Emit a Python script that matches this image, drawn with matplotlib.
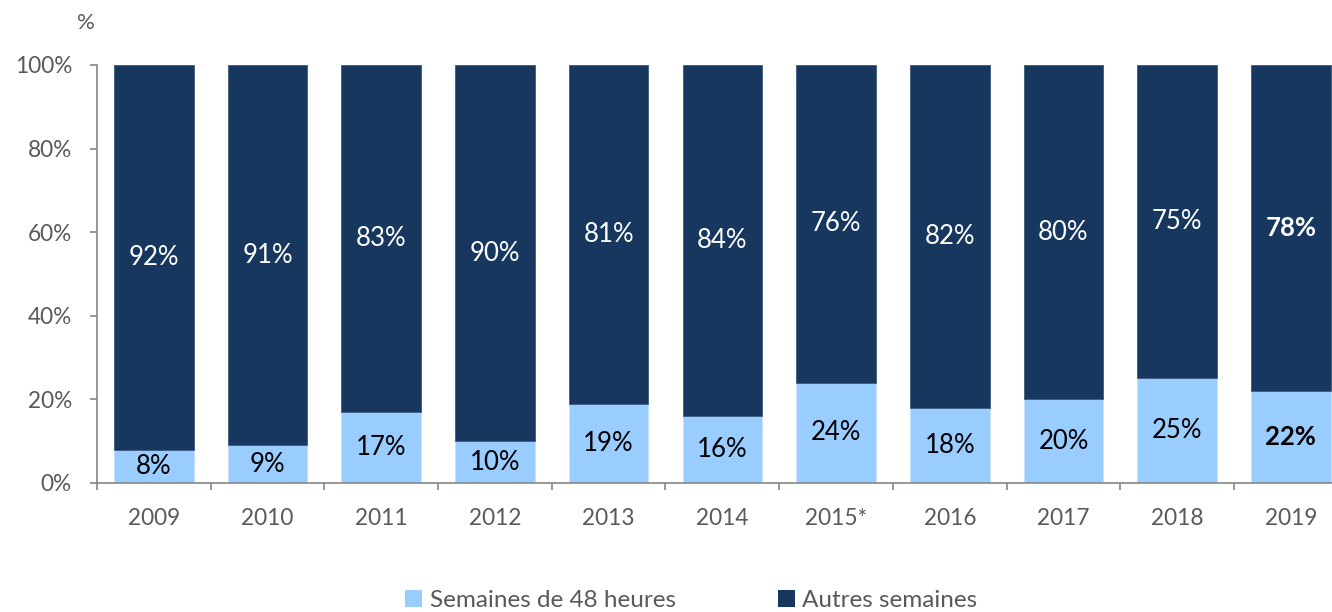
import numpy as np
import matplotlib.pyplot as plt
from matplotlib.patches import Patch

plt.rcParams['font.family'] = ['Lato', 'DejaVu Sans']

years = ["2009", "2010", "2011", "2012", "2013", "2014", "2015*", "2016", "2017", "2018", "2019"]
semaines_48h = [8, 9, 17, 10, 19, 16, 24, 18, 20, 25, 22]
autres = [92, 91, 83, 90, 81, 84, 76, 82, 80, 75, 78]

light = "#99CCFF"
dark = "#17375E"
grey = "#595959"
axis_grey = "#868686"

fig = plt.figure(figsize=(13.32, 6.12), dpi=100)
ax = fig.add_axes([0.0728, 0.2108, 0.939, 0.683])

x = np.arange(len(years))
w = 0.70
ax.bar(x, semaines_48h, w, color=light, edgecolor="#C8E2FA", linewidth=0.6)
ax.bar(x, autres, w, bottom=semaines_48h, color=dark, edgecolor="#3C5A80", linewidth=0.6)

# valeurs au centre de chaque segment, dernière année en gras
last = len(years) - 1
for i in range(len(years)):
    wt = "bold" if i == last else "normal"
    ax.text(x[i], semaines_48h[i] / 2, f"{semaines_48h[i]}%", ha="center", va="center",
            fontsize=18.5, color="black", fontweight=wt)
    ax.text(x[i], semaines_48h[i] + autres[i] / 2, f"{autres[i]}%", ha="center", va="center",
            fontsize=18.5, color="white", fontweight=wt)

ax.set_xlim(-0.5, len(years) - 0.5)
ax.set_ylim(0, 100)
ax.set_yticks(np.arange(0, 101, 20))
ax.set_yticklabels([f"{v}%" for v in range(0, 101, 20)])
ax.set_xticks(x)
ax.set_xticklabels(years)
ax.set_xticks(np.arange(-0.5, len(years), 1), minor=True)

for s in ["top", "right"]:
    ax.spines[s].set_visible(False)
for s in ["left", "bottom"]:
    ax.spines[s].set_color(axis_grey)
    ax.spines[s].set_linewidth(1.2)

ax.tick_params(axis="y", length=5, width=1.2, color=axis_grey, labelsize=16.3, labelcolor=grey, pad=13)
ax.tick_params(axis="x", which="major", length=0, labelsize=16.3, labelcolor=grey, pad=18)
ax.tick_params(axis="x", which="minor", length=5, width=1.2, color=axis_grey)

fig.text(0.0645, 0.963, "%", fontsize=16, color=grey, ha="center", va="center")

handles = [Patch(facecolor=light, edgecolor="none"), Patch(facecolor=dark, edgecolor="none")]
fig.legend(handles, ["Semaines de 48 heures", "Autres semaines"], loc="center",
           bbox_to_anchor=(0.519, 0.018), ncol=2, frameon=False, fontsize=17.5,
           handlelength=0.7, handleheight=0.7, handletextpad=0.3, columnspacing=4.2,
           labelcolor=grey)

fig.savefig("out.png", dpi=100)
